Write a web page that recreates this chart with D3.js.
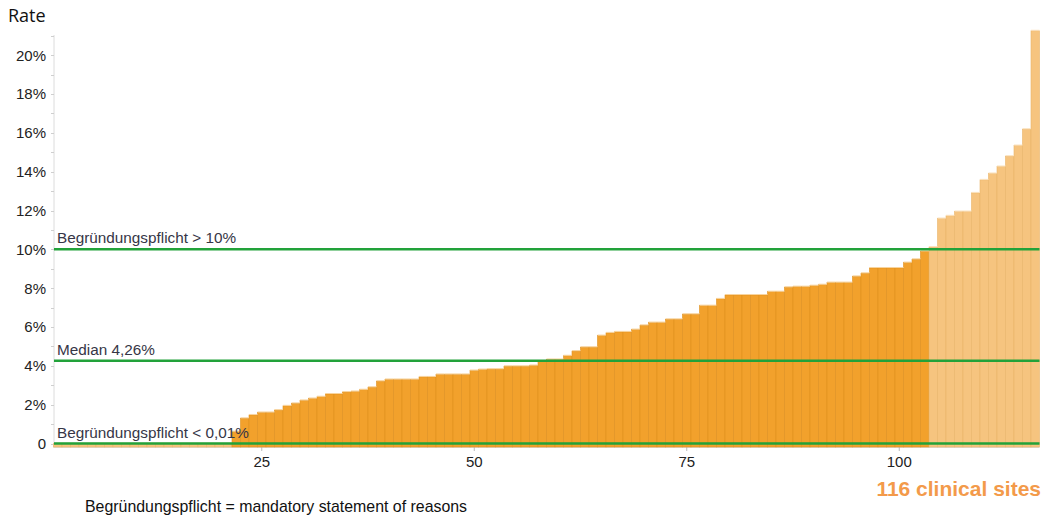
<!DOCTYPE html>
<html>
<head>
<meta charset="utf-8">
<script src="https://cdn.jsdelivr.net/npm/d3@7"></script>
<style>
  html, body { margin: 0; padding: 0; background: #fff; }
  svg { display: block; }
  text { font-family: "Liberation Sans", Arial, sans-serif; }
</style>
</head>
<body>
<svg id="chart" width="1043" height="519"></svg>
<script>
// ---- data ----
const rates = [
  0,0,0,0,0,0,0,0,0,0,0,0,0,0,0,0,0,0,0,0,0,
  0.61,1.30,1.47,1.60,1.60,1.72,1.94,2.07,2.22,2.32,2.41,2.55,2.55,2.65,2.68,2.77,2.90,3.21,3.30,
  3.30,3.30,3.30,3.43,3.43,3.56,3.56,3.56,3.56,3.76,3.81,3.83,3.83,3.98,3.98,3.98,4.02,4.24,4.33,4.33,
  4.52,4.76,4.96,4.96,5.56,5.70,5.75,5.75,5.87,6.09,6.23,6.23,6.40,6.40,6.66,6.66,7.10,7.10,7.45,7.65,
  7.65,7.65,7.65,7.65,7.82,7.82,8.05,8.08,8.08,8.13,8.18,8.29,8.29,8.29,8.61,8.77,9.04,9.04,9.04,9.04,
  9.32,9.49,9.90,10.12,11.59,11.73,11.95,11.95,12.91,13.58,13.91,14.27,14.80,15.35,16.19,21.26
];
const sites = rates.map((d, i) => i + 1);
const xTicks = [25, 50, 75, 100];
const yTicks = [0, 2, 4, 6, 8, 10, 12, 14, 16, 18, 20];
const yTickLabels = ["0", "2%", "4%", "6%", "8%", "10%", "12%", "14%", "16%", "18%", "20%"];
const yMinorTicks = d3.range(0, 22, 1);
const refValues = [10, 4.26, 0];
const refLabels = ["Begründungspflicht > 10%", "Median 4,26%", "Begründungspflicht < 0,01%"];
const yTitle = "Rate";
const siteCountLabel = "116 clinical sites";
const footnote = "Begründungspflicht = mandatory statement of reasons";

// ---- layout ----
const svg = d3.select("#chart");
const plotLeft = 53.5, plotRight = 1039.5, plotBottom = 447, plotTop = 30;
const x = d3.scaleBand().domain(sites).range([plotLeft, plotRight]).padding(0);
const y = d3.scaleLinear().domain([-0.18, 21.3]).range([plotBottom, plotTop]);

const dark = "#F2A12C", darkEdge = "#DE9020";
const light = "#F6C47F", lightEdge = "#E9B469";
const isLight = d => d === 0 || d > 10;

// y axis line + ticks
const yAxisG = svg.append("g");
yAxisG.append("line").attr("x1", 54).attr("x2", 54).attr("y1", 35).attr("y2", plotBottom)
  .attr("stroke", "#dcdcdc").attr("stroke-width", 1);
yAxisG.selectAll("line.minor").data(yMinorTicks).join("line").attr("class", "minor")
  .attr("x1", 51).attr("x2", 54).attr("y1", d => Math.round(y(d)) + 0.5).attr("y2", d => Math.round(y(d)) + 0.5)
  .attr("stroke", "#cfcfcf");
yAxisG.selectAll("text").data(yTicks).join("text")
  .attr("x", 46).attr("y", d => y(d)).attr("dy", "0.36em")
  .attr("text-anchor", "end").attr("font-size", 15).attr("fill", "#222")
  .text((d, i) => yTickLabels[i]);

// x axis
const xAxisG = svg.append("g");
xAxisG.append("line").attr("x1", plotLeft).attr("x2", plotRight).attr("y1", plotBottom + 0.5).attr("y2", plotBottom + 0.5)
  .attr("stroke", "#dcdcdc");
xAxisG.selectAll("line.tick").data(xTicks).join("line").attr("class", "tick")
  .attr("x1", d => x(d) + x.bandwidth() / 2).attr("x2", d => x(d) + x.bandwidth() / 2)
  .attr("y1", plotBottom).attr("y2", plotBottom + 4).attr("stroke", "#bbb");
xAxisG.selectAll("text").data(xTicks).join("text")
  .attr("x", d => x(d) + x.bandwidth() / 2).attr("y", 467)
  .attr("text-anchor", "middle").attr("font-size", 15).attr("fill", "#222")
  .text(d => d);

// bars
const barG = svg.append("g");
barG.selectAll("rect").data(rates).join("rect")
  .attr("x", (d, i) => x(sites[i]))
  .attr("y", d => y(d))
  .attr("width", x.bandwidth())
  .attr("height", d => y(-0.18) - y(d))
  .attr("fill", d => isLight(d) ? light : dark)
  .attr("stroke", d => isLight(d) ? lightEdge : darkEdge)
  .attr("stroke-width", 0.6);
barG.selectAll("line").data(rates).join("line")
  .attr("x1", (d, i) => x(sites[i]))
  .attr("x2", (d, i) => x(sites[i]) + x.bandwidth())
  .attr("y1", d => y(d) - 0.5).attr("y2", d => y(d) - 0.5)
  .attr("stroke", d => isLight(d) ? "#FBE2BE" : "#F8D49E").attr("stroke-width", 1);

// reference lines
const refG = svg.append("g");
refG.selectAll("line").data(refValues).join("line")
  .attr("x1", 54).attr("x2", plotRight).attr("y1", d => y(d)).attr("y2", d => y(d))
  .attr("stroke", "#22A23A").attr("stroke-width", 2.5);
refG.selectAll("text").data(refValues).join("text")
  .attr("x", 57).attr("y", d => y(d) - 6)
  .attr("font-size", 15.3).attr("fill", "#363646")
  .text((d, i) => refLabels[i]);

// titles
svg.append("text").attr("x", 8).attr("y", 22).attr("font-size", 18)
  .style("font-family", "'Open Sans', sans-serif").attr("fill", "#111").text(yTitle);
svg.append("text").attr("x", 1041).attr("y", 496).attr("text-anchor", "end")
  .attr("font-size", 21).attr("font-weight", "bold").attr("fill", "#F39A4A").text(siteCountLabel);
svg.append("text").attr("x", 85).attr("y", 512).attr("font-size", 15.9).attr("fill", "#111").text(footnote);
</script>
</body>
</html>
